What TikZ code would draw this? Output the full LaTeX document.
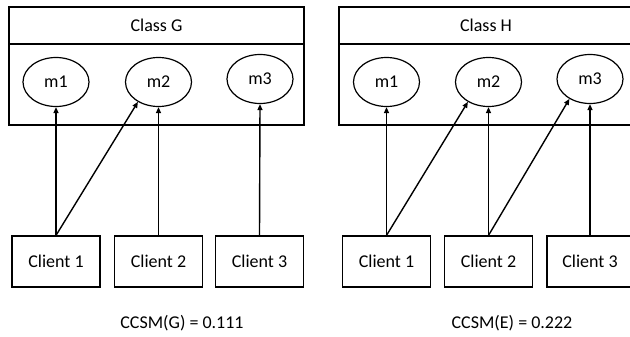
\documentclass[tikz,border=0pt]{standalone}
\usepackage{fontspec}
\setmainfont{Carlito}
\usetikzlibrary{shapes.geometric,arrows.meta}
\begin{document}
\begin{tikzpicture}[x=1pt,y=-1pt,
  every node/.style={font=\fontsize{18}{20}\selectfont, inner sep=0pt},
  box/.style={draw, line width=1.2pt, rectangle},
  meth/.style={draw, line width=1.2pt, ellipse, minimum width=66pt, minimum height=49pt},
  client/.style={draw, line width=1.2pt, rectangle, minimum width=88pt, minimum height=51pt},
  call/.style={line width=1.4pt, -{Triangle[length=6pt,width=5pt]}}]
\useasboundingbox (0,0) rectangle (630,337);

% Class G
\node[box, minimum width=295pt, minimum height=37pt] (gh) at (156.5,25.5) {Class G};
\node[box, minimum width=295pt, minimum height=81pt] (gb) at (156.5,84.5) {};
\node[meth] (gm1) at (56,82) {m1};
\node[meth] (gm2) at (158.5,82) {m2};
\node[meth] (gm3) at (260,79) {m3};
\node[client] (gc1) at (56,261.5) {Client 1};
\node[client] (gc2) at (158.5,261.5) {Client 2};
\node[client] (gc3) at (259.5,261.5) {Client 3};
\draw[call] (gc1.north) -- (gm1.south);
\draw[call] (gc1.north) -- (gm2.224);
\draw[call] (gc2.north) -- (gm2.south);
\draw[call] (gc3.north) -- (gm3.south);
\node (gccsm) at (182,323) {CCSM(G) = 0.111};

% Class H
\node[box, minimum width=294pt, minimum height=37pt] (hh) at (486,25.5) {Class H};
\node[box, minimum width=294pt, minimum height=81pt] (hb) at (486,84.5) {};
\node[meth] (hm1) at (386.5,82) {m1};
\node[meth] (hm2) at (488.5,82) {m2};
\node[meth] (hm3) at (590,79) {m3};
\node[client] (hc1) at (386.5,261.5) {Client 1};
\node[client] (hc2) at (488.5,261.5) {Client 2};
\node[client, minimum width=86pt] (hc3) at (590,261.5) {Client 3};
\draw[call] (hc1.north) -- (hm1.south);
\draw[call] (hc1.north) -- (hm2.224);
\draw[call] (hc2.north) -- (hm2.south);
\draw[call] (hc2.north) -- (hm3.224);
\draw[call] (hc3.north) -- (hm3.south);
\node (hccsm) at (512,323) {CCSM(E) = 0.222};
\end{tikzpicture}
\end{document}
